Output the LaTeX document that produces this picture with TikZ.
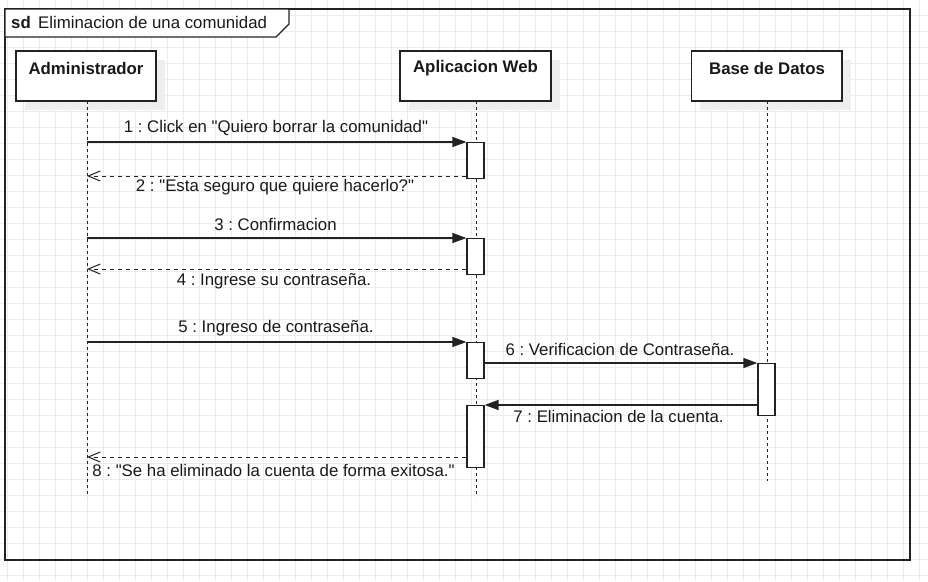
\documentclass[tikz,border=0pt]{standalone}
\usepackage{fontspec}
\setmainfont{Liberation Sans}[Ligatures=TeXOff]
\usetikzlibrary{arrows.meta}
\frenchspacing
\definecolor{gridc}{HTML}{EBEBEB}
\definecolor{shadowc}{HTML}{EEEEEE}
\definecolor{linec}{HTML}{222222}
\tikzset{
  lbl/.style={font=\fontsize{16.8}{20}\selectfont, inner sep=0pt, text=black!90},
  actorbox/.style={draw=linec, line width=1.4pt, fill=white},
  actbox/.style={draw=linec, line width=1.3pt, fill=white},
  lifeline/.style={draw=linec, line width=1pt, dash pattern=on 3pt off 3pt},
  callmsg/.style={draw=linec, line width=1.4pt, -{Triangle[length=14pt,width=10pt]}},
  retmsg/.style={draw=linec, line width=1pt, dash pattern=on 4pt off 4pt, -{Straight Barb[length=12pt,width=10pt,line width=1pt]}},
}
\begin{document}
\begin{tikzpicture}[x=1pt,y=-1pt]
\useasboundingbox (0,0) rectangle (928,581);
\fill[white] (0,0) rectangle (928,581);
% grid
\foreach \gx in {7,23,...,927} \draw[gridc, line width=1pt] (\gx,0) -- (\gx,581);
\foreach \gy in {15,31,...,580} \draw[gridc, line width=1pt] (0,\gy) -- (928,\gy);
% frame
\draw[linec, line width=1.4pt] (5,9) rectangle (910,560);
\draw[linec, line width=1.4pt, fill=white] (5,9) -- (289,9) -- (289,24) -- (276,37) -- (5,37) -- cycle;
\node[lbl, font=\fontsize{16.8}{20}\selectfont\bfseries, anchor=west] (sd) at (11,22) {sd};
\node[lbl, anchor=west] (title) at (38,22) {Eliminacion de una comunidad};
% shadows
\fill[shadowc] (25,60) rectangle (165,110);
\fill[shadowc] (409,60) rectangle (560,110);
\fill[shadowc] (700,60) rectangle (851,110);
% lifelines
\coordinate (adm0) at (87,101);
\coordinate (admE) at (87,497);
\coordinate (app0) at (476,101);
\coordinate (appE) at (476,497);
\coordinate (bd0) at (767,101);
\coordinate (bdE) at (767,481);
\draw[lifeline] (adm0) -- (admE);
\draw[lifeline] (app0) -- (appE);
\draw[lifeline] (bd0) -- (bdE);
% actor boxes
\draw[actorbox] (16,51) rectangle (156,101);
\node[lbl, font=\fontsize{16.8}{20}\selectfont\bfseries] (adm) at (86,68) {Administrador};
\draw[actorbox] (400,51) rectangle (551,101);
\node[lbl, font=\fontsize{16.8}{20}\selectfont\bfseries] (app) at (475.5,68) {Aplicacion Web};
\draw[actorbox] (691.5,51) rectangle (842,101);
\node[lbl, font=\fontsize{16.8}{20}\selectfont\bfseries] (bd) at (767,68) {Base de Datos};
% activation boxes
\node[actbox, minimum width=17pt, minimum height=36pt, inner sep=0pt, anchor=north] (act1) at (475.5,142) {};
\node[actbox, minimum width=17pt, minimum height=36pt, inner sep=0pt, anchor=north] (act2) at (475.5,238) {};
\node[actbox, minimum width=17pt, minimum height=36pt, inner sep=0pt, anchor=north] (act3) at (475.5,342) {};
\node[actbox, minimum width=17pt, minimum height=62pt, inner sep=0pt, anchor=north] (act4) at (475.5,405) {};
\node[actbox, minimum width=17pt, minimum height=52pt, inner sep=0pt, anchor=north] (act5) at (766.5,363) {};
% admin lifeline points
\coordinate (m1) at (87,142);
\coordinate (m2) at (87,176);
\coordinate (m3) at (87,238);
\coordinate (m4) at (87,269);
\coordinate (m5) at (87,342);
\coordinate (m8) at (87,457);
% messages
\draw[callmsg] (m1) -- (act1.north west);
\node[lbl] (l1) at (276,128) {1 : Click en "Quiero borrar la comunidad"};
\draw[retmsg] (act1.west |- m2) -- (m2);
\node[lbl] (l2) at (275,187) {2 : "Esta seguro que quiere hacerlo?"};
\draw[callmsg] (m3) -- (act2.north west);
\node[lbl] (l3) at (275.5,224) {3 : Confirmacion};
\draw[retmsg] (act2.west |- m4) -- (m4);
\node[lbl] (l4) at (274,281) {4 : Ingrese su contraseña.};
\draw[callmsg] (m5) -- (act3.north west);
\node[lbl] (l5) at (276,328) {5 : Ingreso de contraseña.};
\draw[callmsg] (act3.east |- act5.north) -- (act5.north west);
\node[lbl] (l6) at (620,349) {6 : Verificacion de Contraseña.};
\draw[callmsg] (act5.west |- act4.north) -- (act4.north east);
\node[lbl] (l7) at (618.5,416) {7 : Eliminacion de la cuenta.};
\draw[retmsg] (act4.west |- m8) -- (m8);
\node[lbl] (l8) at (273.5,470) {8 : "Se ha eliminado la cuenta de forma exitosa."};
\end{tikzpicture}
\end{document}
